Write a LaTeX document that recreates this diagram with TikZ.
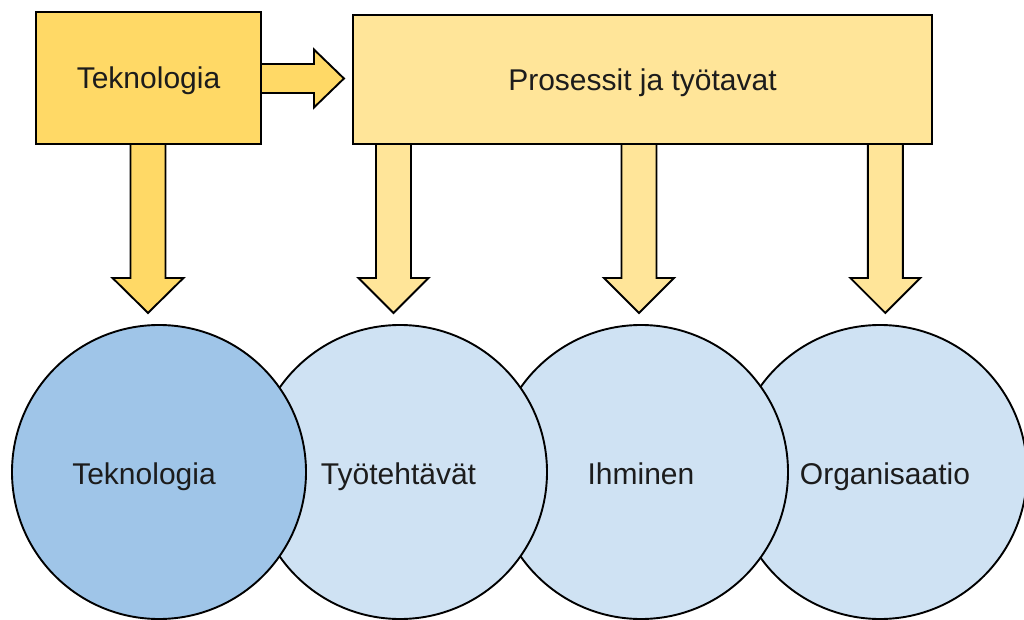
\documentclass[tikz,border=0pt]{standalone}
\usepackage{fontspec}
\setmainfont{Liberation Sans}
\usetikzlibrary{calc,backgrounds}
\definecolor{techyellow}{HTML}{FFD966}
\definecolor{procyellow}{HTML}{FFE599}
\definecolor{techblue}{HTML}{9FC5E8}
\definecolor{lightblue}{HTML}{CFE2F3}
\definecolor{inkgray}{HTML}{1C1C1C}

\begin{document}
\begin{tikzpicture}[x=1pt, y=-1pt, line join=miter,
  outline/.style={draw=black, line width=1.9pt},
  labelfont/.style={font=\fontsize{30}{36}\selectfont, text=inkgray},
  box/.style={outline, rectangle, inner sep=0pt, labelfont, text height=22pt, text depth=0pt},
  ring/.style={outline, circle, minimum size=294pt, inner sep=0pt},
  ringtext/.style={labelfont, inner sep=0pt, text height=24pt, text depth=0pt},
  fatarrow/.style={outline, fill=#1}]
\useasboundingbox (0,0) rectangle (1024,620);

% bottom row of overlapping circles, drawn right to left so the left one is on top
\node[ring, fill=lightblue, label={[ringtext, xshift=5pt]center:Organisaatio}] (org) at (880,472) {};
\node[ring, fill=lightblue, label={[ringtext]center:Ihminen}] (ihm) at (641,472) {};
\node[ring, fill=lightblue, label={[ringtext, xshift=-1.5pt]center:Työtehtävät}] (tyo) at (400,472) {};
\node[ring, fill=techblue, label={[ringtext, xshift=-15pt]center:Teknologia}] (tekc) at (159,472) {};

% top boxes
\node[box, fill=techyellow, minimum width=225pt, minimum height=132pt] (tek) at (148.5,78) {Teknologia};
\node[box, fill=procyellow, minimum width=579pt, minimum height=129pt] (proc) at (642.5,79.5)
  {Prosessit ja työtavat};

\begin{scope}[on background layer]
% block arrow from Teknologia down to its circle
\draw[fatarrow=techyellow] ($(tek.south)+(-18,0)$) -- ++(0,133) -- ++(-18,0)
  -- ++(35.5,35) -- ++(35.5,-35) -- ++(-18,0) -- ++(0,-133);

% block arrow from Teknologia to the process box
\draw[fatarrow=techyellow] ($(tek.east)+(0,-14)$) -- ++(52,0) -- ++(0,-14.5)
  -- ++(30,29) -- ++(-30,29) -- ++(0,-14.5) -- ++(-52,0);

% block arrows from the process box down to the circles
\foreach \f in {0.0713,0.494,0.918}{
  \draw[fatarrow=procyellow] ($(proc.south west)!\f!(proc.south east)+(-17.5,0)$)
    -- ++(0,133) -- ++(-17.5,0) -- ++(35,35) -- ++(35,-35) -- ++(-17.5,0) -- ++(0,-133);
}
\end{scope}
\end{tikzpicture}
\end{document}
